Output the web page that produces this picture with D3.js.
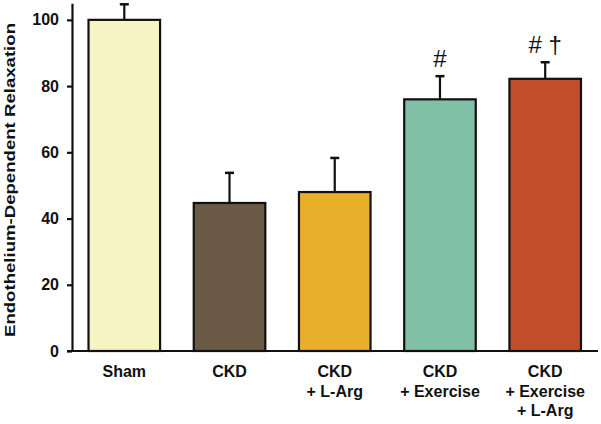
<!DOCTYPE html>
<html><head><meta charset="utf-8">
<script src="https://cdn.jsdelivr.net/npm/d3@7"></script>
<style>body{margin:0;background:#fff}svg{display:block}text{font-family:Arial,"Liberation Sans",Helvetica,sans-serif;}</style>
</head><body>
<svg id="c" width="601" height="424"></svg>
<script>
const categories = ["Sham", "CKD", "CKD\n+ L-Arg", "CKD\n+ Exercise", "CKD\n+ Exercise\n+ L-Arg"];
const values = [100, 44.7, 48, 76, 82.2];
const errors = [4.7, 9.1, 10.3, 7, 5];
const colors = ["#f5f4c2", "#6a5a46", "#e8b02a", "#82bfa7", "#c24d2a"];
const annotations = ["", "", "", "#", "# \u2020"];
const yTicks = [0, 20, 40, 60, 80, 100];
const yTitle = "Endothelium-Dependent Relaxation";

const svg = d3.select("#c");
const x = d3.scaleBand().domain(categories).range([72, 597.5]).paddingInner(0.32).paddingOuter(0.157);
const y = d3.scaleLinear().domain([0, 105]).range([351, 3.3]);

// bars
svg.append("g").selectAll("rect").data(categories).join("rect")
  .attr("x", d => x(d)).attr("width", x.bandwidth())
  .attr("y", (d, i) => y(values[i])).attr("height", (d, i) => y(0) - y(values[i]))
  .attr("fill", (d, i) => colors[i]).attr("stroke", "#111").attr("stroke-width", 2.2);

// error bars
const eb = svg.append("g").attr("stroke", "#111").attr("stroke-width", 2.2);
categories.forEach((d, i) => {
  const cx = x(d) + x.bandwidth() / 2;
  eb.append("line").attr("x1", cx).attr("x2", cx).attr("y1", y(values[i])).attr("y2", y(values[i] + errors[i]));
  eb.append("line").attr("x1", cx - 4.5).attr("x2", cx + 4.5).attr("y1", y(values[i] + errors[i])).attr("y2", y(values[i] + errors[i])).attr("stroke-width", 2.5);
});

// annotations
svg.append("g").selectAll("text").data(categories).join("text")
  .attr("x", d => x(d) + x.bandwidth() / 2)
  .attr("y", (d, i) => y(values[i] + errors[i]) - 9)
  .attr("text-anchor", "middle").attr("font-size", 24).attr("fill", "#111")
  .text((d, i) => annotations[i]);

// y axis
const yAxis = svg.append("g").attr("transform", "translate(72,0)")
  .call(d3.axisLeft(y).tickValues(yTicks).tickSize(5).tickPadding(8).tickSizeOuter(0));
yAxis.select(".domain").attr("stroke", "#111").attr("stroke-width", 2.2);
yAxis.selectAll(".tick line").attr("stroke", "#111").attr("stroke-width", 2.2);
yAxis.selectAll(".tick text").attr("font-size", 16).attr("font-weight", "bold").attr("fill", "#111")
  .attr("font-family", "Arial, 'Liberation Sans', sans-serif");

// x axis line
const xAxis = svg.append("g").attr("transform", "translate(0,351)")
  .call(d3.axisBottom(x).tickSize(0).tickPadding(0).tickSizeOuter(0).tickFormat(""));
xAxis.select(".domain").attr("d", "M67,0H598").attr("stroke", "#111").attr("stroke-width", 2.2);

// x labels (multi-line)
xAxis.selectAll(".tick text").each(function(d) {
  const t = d3.select(this).text(null).attr("y", 0).attr("dy", null)
    .attr("font-size", 16).attr("font-weight", "bold").attr("fill", "#111")
    .attr("font-family", "Arial, 'Liberation Sans', sans-serif");
  d.split("\n").forEach((line, k) => {
    t.append("tspan").attr("x", 0).attr("y", 26 + k * 19.6).text(line);
  });
});

// y title
svg.append("text").attr("transform", "translate(14.5,180) rotate(-90)")
  .attr("text-anchor", "middle").attr("font-size", 15.5).attr("font-weight", "bold").attr("fill", "#111")
  .attr("textLength", 314).attr("lengthAdjust", "spacingAndGlyphs")
  .text(yTitle);
</script>
</body></html>
